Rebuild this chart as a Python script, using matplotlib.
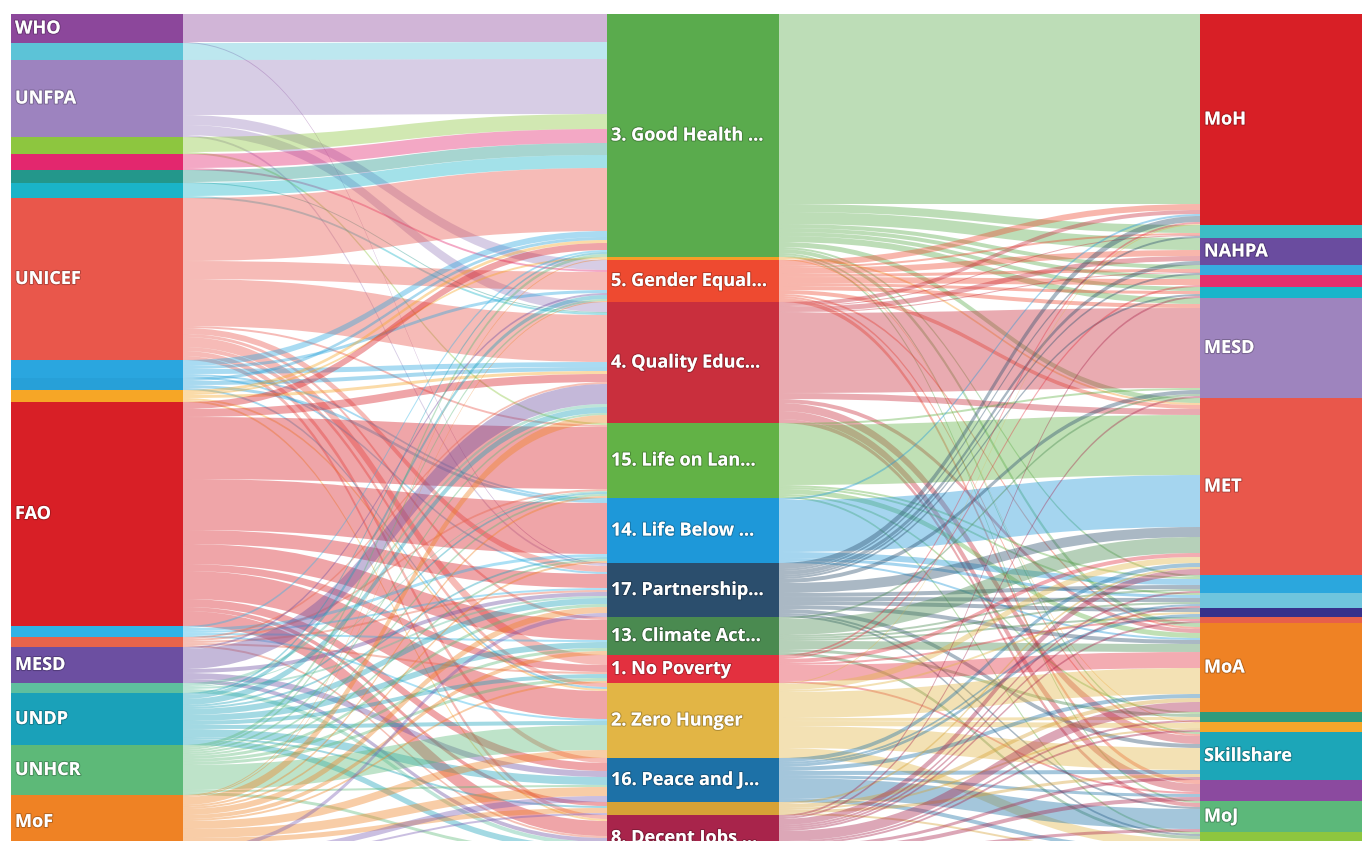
import matplotlib.pyplot as plt
import matplotlib.patheffects as pe
from matplotlib.path import Path
from matplotlib.patches import PathPatch, Rectangle

# donors / agencies (left column, top to bottom)
donors = ["WHO", "UNAIDS", "UNFPA", "UNEP", "UN Women", "UNESCO", "IOM", "UNICEF",
          "UNIDO", "ITC", "ILO", "FAO", "UNOPS", "IFAD", "MESD ", "UN-Habitat",
          "UNDP", "UNHCR", "MoF", "UNODC"]
donor_colors = ["#8c479b", "#5cc3d7", "#9d83bf", "#8dc63f", "#e3276e", "#23978b",
                "#1ab4c8", "#e9574b", "#2aa6df", "#27a0d8", "#f6a626", "#d81f26",
                "#2fb3e6", "#e8644a", "#6c4fa1", "#5ebf9e", "#1aa1b9", "#5db978",
                "#ef8224", "#7b60b5"]

# SDGs (middle column)
sdgs = ["3. Good Health ...", "11. Sustainable ...", "5. Gender Equal...",
        "4. Quality Educ...", "15. Life on Lan...", "14. Life Below ...",
        "17. Partnership...", "13. Climate Act...", "1. No Poverty",
        "2. Zero Hunger", "16. Peace and J...", "12. Responsible ...",
        "8. Decent Jobs ..."]
sdg_colors = ["#5aab4d", "#f79d28", "#ee4a30", "#c92f3d", "#62b246", "#1e98d9",
              "#2b4e6d", "#4a8a50", "#e3303f", "#e2b545", "#1d71a7", "#d6a236",
              "#a8244b"]

# implementing partners (right column)
partners = ["MoH", "MoI", "NAHPA", "MoT", "MoSD", "MoW", "MESD", "MET", "MoEW",
            "MoTA", "MoPIC", "MoMA", "MoA", "MoL", "MoIT", "Skillshare", "MoY",
            "MoJ", "MoLA"]
partner_colors = ["#d81f26", "#3dbdc5", "#6a4c9f", "#36abe0", "#e3306d", "#19b5ca",
                  "#9e84be", "#e9574b", "#2ba7dd", "#6fc5dd", "#37318b", "#e8604a",
                  "#ef8224", "#2e9b7c", "#f5a62a", "#1ca6b8", "#8b4a9f", "#5cb87a",
                  "#8dc63f"]

# donor -> SDG funding (units)
donor_sdg = [
    ("WHO", 0, 28), ("WHO", 6, 1),
    ("UNAIDS", 0, 17),
    ("UNFPA", 0, 55), ("UNFPA", 2, 10), ("UNFPA", 3, 10), ("UNFPA", 6, 2),
    ("UNEP", 0, 15), ("UNEP", 4, 2),
    ("UN Women", 0, 14), ("UN Women", 2, 2),
    ("UNESCO", 0, 12), ("UNESCO", 3, 1),
    ("IOM", 0, 13), ("IOM", 3, 2),
    ("UNICEF", 0, 63), ("UNICEF", 2, 18), ("UNICEF", 3, 47), ("UNICEF", 4, 2),
    ("UNICEF", 6, 6), ("UNICEF", 7, 3), ("UNICEF", 8, 10), ("UNICEF", 9, 4),
    ("UNICEF", 10, 5), ("UNICEF", 12, 4),
    ("UNIDO", 0, 6), ("UNIDO", 2, 3), ("UNIDO", 3, 5), ("UNIDO", 5, 2), ("UNIDO", 6, 2),
    ("ITC", 0, 3), ("ITC", 3, 4), ("ITC", 5, 3), ("ITC", 9, 2),
    ("ILO", 0, 3), ("ILO", 1, 2), ("ILO", 3, 3), ("ILO", 9, 2), ("ILO", 12, 2),
    ("FAO", 0, 7), ("FAO", 3, 8), ("FAO", 4, 62), ("FAO", 5, 51), ("FAO", 6, 14),
    ("FAO", 7, 20), ("FAO", 8, 7), ("FAO", 9, 28), ("FAO", 10, 8), ("FAO", 11, 4),
    ("FAO", 12, 15),
    ("UNOPS", 0, 2), ("UNOPS", 5, 3), ("UNOPS", 6, 2), ("UNOPS", 7, 2), ("UNOPS", 9, 2),
    ("IFAD", 3, 2), ("IFAD", 4, 2), ("IFAD", 6, 2), ("IFAD", 8, 2), ("IFAD", 12, 2),
    ("MESD ", 2, 2), ("MESD ", 3, 20), ("MESD ", 6, 4), ("MESD ", 10, 6), ("MESD ", 12, 4),
    ("UN-Habitat", 3, 3), ("UN-Habitat", 4, 1), ("UN-Habitat", 6, 2), ("UN-Habitat", 12, 4),
    ("UNDP", 0, 2), ("UNDP", 2, 4), ("UNDP", 3, 6), ("UNDP", 4, 2), ("UNDP", 5, 2),
    ("UNDP", 6, 6), ("UNDP", 7, 6), ("UNDP", 8, 4), ("UNDP", 9, 4), ("UNDP", 10, 8),
    ("UNDP", 11, 2), ("UNDP", 12, 6),
    ("UNHCR", 0, 3), ("UNHCR", 2, 2), ("UNHCR", 3, 2), ("UNHCR", 4, 2), ("UNHCR", 5, 2),
    ("UNHCR", 6, 3), ("UNHCR", 7, 3), ("UNHCR", 8, 3), ("UNHCR", 9, 25), ("UNHCR", 10, 2),
    ("UNHCR", 12, 3),
    ("MoF", 1, 1), ("MoF", 2, 1), ("MoF", 3, 8), ("MoF", 4, 2), ("MoF", 5, 2),
    ("MoF", 6, 6), ("MoF", 7, 4), ("MoF", 8, 2), ("MoF", 9, 8), ("MoF", 10, 9),
    ("MoF", 11, 5), ("MoF", 12, 6),
    ("UNODC", 6, 4), ("UNODC", 10, 6), ("UNODC", 11, 2),
]

# SDG -> partner funding (units)
sdg_partner = [
    (0, "MoH", 190), (0, "MoI", 8), (0, "NAHPA", 12), (0, "MoT", 4), (0, "MoSD", 4),
    (0, "MoW", 4), (0, "MESD", 6), (0, "MET", 5), (0, "MoEW", 2), (0, "MoA", 4),
    (0, "Skillshare", 2), (0, "MoJ", 2),
    (1, "MET", 2), (1, "MoIT", 1),
    (2, "MoH", 6), (2, "MoI", 2), (2, "NAHPA", 6), (2, "MoT", 3), (2, "MoSD", 6),
    (2, "MoW", 3), (2, "MESD", 4), (2, "MET", 4), (2, "MoA", 2), (2, "Skillshare", 2),
    (2, "MoY", 4),
    (3, "MoH", 4), (3, "MoI", 1), (3, "NAHPA", 5), (3, "MoT", 1), (3, "MESD", 80),
    (3, "MET", 6), (3, "MoA", 4), (3, "Skillshare", 8), (3, "MoY", 8), (3, "MoJ", 4),
    (4, "MESD", 2), (4, "MET", 60), (4, "MoEW", 2), (4, "MoTA", 2), (4, "MoA", 5),
    (4, "MoL", 2), (4, "MoLA", 2),
    (5, "MoH", 2), (5, "MET", 52), (5, "MoEW", 6), (5, "MoTA", 3), (5, "MoA", 2),
    (6, "MoH", 6), (6, "MoI", 2), (6, "NAHPA", 4), (6, "MoT", 2), (6, "MoW", 2),
    (6, "MESD", 4), (6, "MET", 10), (6, "MoEW", 4), (6, "MoTA", 4), (6, "MoPIC", 4),
    (6, "MoA", 4), (6, "Skillshare", 4), (6, "MoJ", 2), (6, "MoLA", 2),
    (7, "MESD", 2), (7, "MET", 16), (7, "MoEW", 2), (7, "MoTA", 2), (7, "MoMA", 2),
    (7, "MoA", 8), (7, "MoL", 3), (7, "MoLA", 3),
    (8, "MoH", 2), (8, "MoSD", 2), (8, "MET", 4), (8, "MoMA", 2), (8, "MoA", 16),
    (8, "MoY", 2),
    (9, "MoH", 1), (9, "MET", 6), (9, "MoPIC", 2), (9, "MoA", 26), (9, "MoL", 3),
    (9, "MoIT", 5), (9, "Skillshare", 22), (9, "MoLA", 10),
    (10, "MET", 4), (10, "MoTA", 2), (10, "MoPIC", 3), (10, "MoA", 4),
    (10, "Skillshare", 4), (10, "MoY", 3), (10, "MoJ", 20), (10, "MoLA", 4),
    (11, "MET", 2), (11, "MoA", 4), (11, "MoIT", 2), (11, "Skillshare", 3), (11, "MoLA", 2),
    (12, "MoW", 2), (12, "MESD", 2), (12, "MET", 6), (12, "MoEW", 2), (12, "MoTA", 2),
    (12, "MoMA", 2), (12, "MoA", 10), (12, "MoL", 2), (12, "MoIT", 2),
    (12, "Skillshare", 3), (12, "MoY", 4), (12, "MoJ", 3),
]

fig = plt.figure(figsize=(13.62, 8.41), dpi=100)
ax = fig.add_axes([0, 0, 1, 1])
ax.set_xlim(0, 1362)
ax.set_ylim(841, 0)
ax.axis("off")

col_x = [11, 607, 1200]
node_w = 172
top = 14

# build node table: (column, name) -> color
cols = [donors, sdgs, partners]
col_colors = [donor_colors, sdg_colors, partner_colors]
links = []
for d, s, v in donor_sdg:
    links.append(((0, d), (1, sdgs[s]), v))
for s, p, v in sdg_partner:
    links.append(((1, sdgs[s]), (2, p), v))

inflow, outflow = {}, {}
for a, b, v in links:
    outflow[a] = outflow.get(a, 0) + v
    inflow[b] = inflow.get(b, 0) + v

pos = {}
for c, names in enumerate(cols):
    y = top
    for n in names:
        key = (c, n)
        h = max(inflow.get(key, 0), outflow.get(key, 0))
        pos[key] = (y, h)
        y += h

# link offsets, sorted like d3-sankey
src_off, tgt_off = {}, {}
for key in pos:
    outs = sorted([l for l in links if l[0] == key], key=lambda l: pos[l[1]][0])
    y = pos[key][0]
    for l in outs:
        src_off[id(l)] = y
        y += l[2]
    ins = sorted([l for l in links if l[1] == key], key=lambda l: pos[l[0]][0])
    y = pos[key][0]
    for l in ins:
        tgt_off[id(l)] = y
        y += l[2]

color_of = {}
for c, names in enumerate(cols):
    for n, col in zip(names, col_colors[c]):
        color_of[(c, n)] = col

for l in links:
    a, b, v = l
    x0 = col_x[a[0]] + node_w
    x1 = col_x[b[0]]
    xm = (x0 + x1) / 2
    s0 = src_off[id(l)]
    t0 = tgt_off[id(l)]
    verts = [(x0, s0), (xm, s0), (xm, t0), (x1, t0), (x1, t0 + v),
             (xm, t0 + v), (xm, s0 + v), (x0, s0 + v), (x0, s0)]
    codes = [Path.MOVETO, Path.CURVE4, Path.CURVE4, Path.CURVE4, Path.LINETO,
             Path.CURVE4, Path.CURVE4, Path.CURVE4, Path.CLOSEPOLY]
    ax.add_patch(PathPatch(Path(verts, codes), facecolor=color_of[a],
                           alpha=0.4, edgecolor="none", zorder=1))

shadow = [pe.withStroke(linewidth=1.6, foreground=(0, 0, 0, 0.22))]
for key, (y, h) in pos.items():
    c, n = key
    ax.add_patch(Rectangle((col_x[c], y), node_w, h, facecolor=color_of[key],
                           edgecolor="none", zorder=2))
    # only nodes tall enough get a label
    if h >= 25:
        ax.text(col_x[c] + 4, y + h / 2, n.strip(), color="white", fontsize=13,
                fontweight="bold", family=["Open Sans", "DejaVu Sans"],
                va="center", ha="left", zorder=3, path_effects=shadow)

fig.savefig("out.png", dpi=100)
